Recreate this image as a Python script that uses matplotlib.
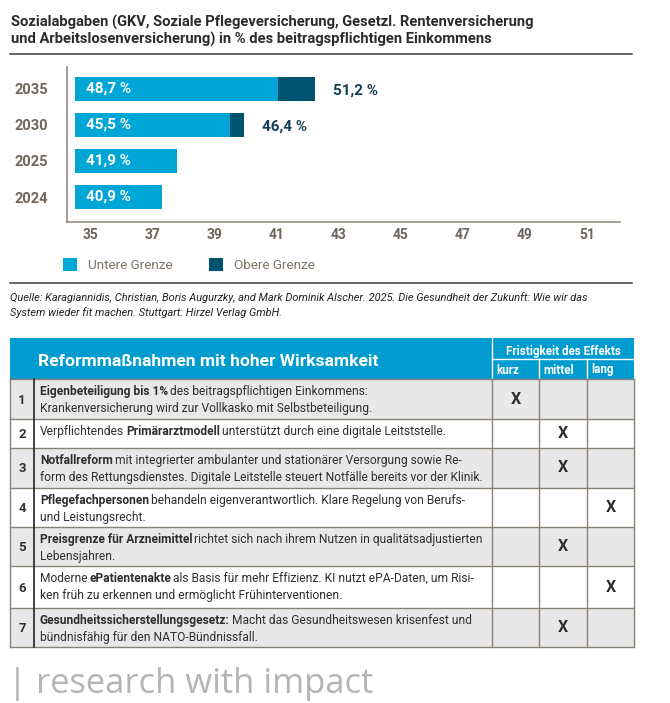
import numpy as np
import matplotlib
matplotlib.use('Agg')
import matplotlib.pyplot as plt

plt.rcParams['font.family'] = ['Roboto', 'DejaVu Sans']

# Daten Diagramm
jahre = ['2024', '2025', '2030', '2035']
untere = [40.9, 41.9, 45.5, 48.7]
obere = [None, None, 46.4, 51.2]
basis = 35
achse_ticks = [35, 37, 39, 41, 43, 45, 47, 49, 51]
quellen = ['IGES-Institut', 'Deloitte', 'Generationenbilanz des FZG']
legende = ['Untere Grenze', 'Obere Grenze']

titel = ['Sozialabgaben (GKV, Soziale Pflegeversicherung, Gesetzl. Rentenversicherung',
         'und Arbeitslosenversicherung) in % des beitragspflichtigen Einkommens']
quelle = ['Quelle: Karagiannidis, Christian, Boris Augurzky, and Mark Dominik Alscher. 2025. '
          'Die Gesundheit der Zukunft: Wie wir das',
          'System wieder fit machen. Stuttgart: Hirzel Verlag GmbH.']

# Daten Tabelle
tab_titel = 'Reformmaßnahmen mit hoher Wirksamkeit'
frist_titel = 'Fristigkeit des Effekts'
fristen = ['kurz', 'mittel', 'lang']
massnahmen = [
    [[('Eigenbeteiligung bis 1%', True), ('des beitragspflichtigen Einkommens:', False)],
     [('Krankenversicherung wird zur Vollkasko mit Selbstbeteiligung.', False)]],
    [[('Verpflichtendes', False), ('Primärarztmodell', True),
      ('unterstützt durch eine digitale Leitststelle.', False)]],
    [[('Notfallreform', True), ('mit integrierter ambulanter und stationärer Versorgung sowie Re-', False)],
     [('form des Rettungsdienstes. Digitale Leitstelle steuert Notfälle bereits vor der Klinik.', False)]],
    [[('Pflegefachpersonen', True), ('behandeln eigenverantwortlich. Klare Regelung von Berufs-', False)],
     [('und Leistungsrecht.', False)]],
    [[('Preisgrenze für Arzneimittel', True), ('richtet sich nach ihrem Nutzen in qualitätsadjustierten', False)],
     [('Lebensjahren.', False)]],
    [[('Moderne', False), ('ePatientenakte', True),
      ('als Basis für mehr Effizienz. KI nutzt ePA-Daten, um Risi-', False)],
     [('ken früh zu erkennen und ermöglicht Frühinterventionen.', False)]],
    [[('Gesundheitssicherstellungsgesetz:', True), ('Macht das Gesundheitswesen krisenfest und', False)],
     [('bündnisfähig für den NATO-Bündnissfall.', False)]],
]
wirkung = ['kurz', 'mittel', 'mittel', 'lang', 'mittel', 'lang', 'mittel']
fusszeile = '| research with impact'

# Farben
hellblau = '#00A6D6'
dunkelblau = '#00536E'
kopf_blau = '#009CCF'
grau_txt = '#6E655C'
achse_col = '#8C8279'
gitter = '#8A8278'

W, H = 670, 703
fig = plt.figure(figsize=(W / 100, H / 100), dpi=100)

# Hintergrund-Achse in Pixelkoordinaten
bg = fig.add_axes([0, 0, 1, 1])
bg.set_xlim(0, W)
bg.set_ylim(H, 0)
bg.axis('off')

bg.text(11, 22, titel[0], fontsize=10.6, weight='bold', color='#2B2B2B', va='center')
bg.text(11, 39, titel[1], fontsize=10.6, weight='bold', color='#2B2B2B', va='center')
bg.plot([10, 632], [54, 54], color='#3A3A3A', lw=1.1)

# Balkendiagramm
ax = fig.add_axes([67 / W, 1 - 222 / H, 553 / W, 155 / H])
y = np.arange(len(jahre))
b1 = ax.barh(y, np.array(untere) - basis, left=basis, height=0.69, color=hellblau)
ob_y = [i for i, v in enumerate(obere) if v is not None]
b2 = ax.barh(ob_y, [obere[i] - untere[i] for i in ob_y], left=[untere[i] for i in ob_y],
             height=0.69, color=dunkelblau)
ax.set_xlim(34.459, 71.82)
ax.set_ylim(-0.694, 3.61)
ax.set_xticks([])
ax.set_yticks(y, jahre)
ax.tick_params(axis='y', length=0, pad=13.5, labelsize=10.5, labelcolor=grau_txt)
for lab in ax.get_yticklabels():
    lab.set_fontweight('bold')
for s in ['top', 'right']:
    ax.spines[s].set_visible(False)
for s in ['left', 'bottom']:
    ax.spines[s].set_color(achse_col)
    ax.spines[s].set_linewidth(1.1)

for i, v in enumerate(untere):
    ax.annotate(f'{v:.1f} %'.replace('.', ','), xy=(basis, i), xytext=(8, 0),
                textcoords='offset points', va='center', ha='left', color='white',
                weight='bold', fontsize=11)
for i in ob_y:
    ax.annotate(f'{obere[i]:.1f} %'.replace('.', ','), xy=(obere[i], i), xytext=(13, -1),
                textcoords='offset points', va='center', ha='left', color='#123F56',
                weight='bold', fontsize=11)

# zweite Achse fuer die Beschriftung (wie im Original)
ax2 = ax.twiny()
ax2.set_xlim(34.226, 52.065)
ax2.xaxis.set_ticks_position('bottom')
ax2.set_xticks(achse_ticks)
ax2.tick_params(axis='x', length=0, pad=4, labelsize=10, labelcolor=grau_txt)
for lab in ax2.get_xticklabels():
    lab.set_fontweight('bold')
for s in ax2.spines.values():
    s.set_visible(False)

for k, q in enumerate(quellen):
    bg.text(407, 102 + k * 18.5, q, color='#1AAEE0', fontsize=10.8, va='center')

fig.legend([b1, b2], legende, loc='center left', bbox_to_anchor=(63 / W, 1 - 265 / H),
           frameon=False, ncol=2, fontsize=9.7, handlelength=1.05, handleheight=1.05,
           handletextpad=0.8, columnspacing=2.7, borderpad=0, borderaxespad=0,
           labelcolor='#7D7469')

bg.plot([10, 632], [283, 283], color='#3A3A3A', lw=1.1)
bg.text(10, 298, quelle[0], fontsize=7.95, style='italic', color='#222222', va='center')
bg.text(10, 313, quelle[1], fontsize=7.95, style='italic', color='#222222', va='center')

# Tabelle
links, rechts = 10, 634
nr_grenze = 34
spalten = [492, 539, 587, 634]
kopf_oben, kopf_unten = 338, 379
zeilen = [379, 419, 448, 488, 527, 566, 608, 647]
body_fs = 8.65

bg.fill_between([links, rechts], kopf_oben, kopf_unten, color=kopf_blau, lw=0)
bg.text(38, 361, tab_titel, color='white', weight='bold', fontsize=12.6, va='center')
bg.text((spalten[0] + spalten[3]) / 2, 351, frist_titel, color='white', weight='bold',
        fontsize=8.4, va='center', ha='center')
bg.plot([spalten[0], spalten[0]], [kopf_oben, kopf_unten], color='white', lw=1)
bg.plot([spalten[0], spalten[3]], [359, 359], color='white', lw=1)
for xs in spalten[1:3]:
    bg.plot([xs, xs], [359, kopf_unten], color='white', lw=1)
for j, f in enumerate(fristen):
    bg.text(spalten[j] + 4, 370, f, color='white', weight='bold', fontsize=8.4, va='center')

renderer = fig.canvas.get_renderer()
t1 = bg.text(0, 0, 'x x', fontsize=body_fs)
t2 = bg.text(0, 0, 'xx', fontsize=body_fs)
leer = t1.get_window_extent(renderer).width - t2.get_window_extent(renderer).width
t1.remove()
t2.remove()

for i, zeile in enumerate(massnahmen):
    oben, unten = zeilen[i], zeilen[i + 1]
    mitte = (oben + unten) / 2
    if i % 2 == 0:
        bg.fill_between([links, rechts], oben, unten, color='#E8E8E8', lw=0)
    bg.text(22, mitte + 1, str(i + 1), ha='center', va='center', weight='bold',
            fontsize=9.5, color='#333333')
    for k, teile in enumerate(zeile):
        xp = 40
        yp = oben + 12.5 + k * 17
        for txt, fett in teile:
            t = bg.text(xp, yp, txt, fontsize=body_fs, va='center', color='#2E2E2E',
                        weight='bold' if fett else 'normal')
            # Abstand zwischen den Teilstuecken etwas knapper
            xp += t.get_window_extent(renderer).width + leer * 0.6
    j = fristen.index(wirkung[i])
    xm = (spalten[j] + spalten[j + 1]) / 2
    bg.text(xm, mitte, 'X', ha='center', va='center', weight='bold', fontsize=11.5,
            color='#2E2E2E')

for yz in zeilen:
    bg.plot([links, rechts], [yz, yz], color=gitter, lw=1)
for xs in [links] + spalten:
    bg.plot([xs, xs], [zeilen[0], zeilen[-1]], color=gitter, lw=1)
bg.plot([nr_grenze, nr_grenze], [zeilen[0], zeilen[-1]], color='#333333', lw=1.3)

bg.text(8, 684, fusszeile, fontfamily=['Open Sans', 'DejaVu Sans'], fontsize=24.8,
        color='#B4B4B4', va='center')

fig.savefig('out.png', dpi=100)
